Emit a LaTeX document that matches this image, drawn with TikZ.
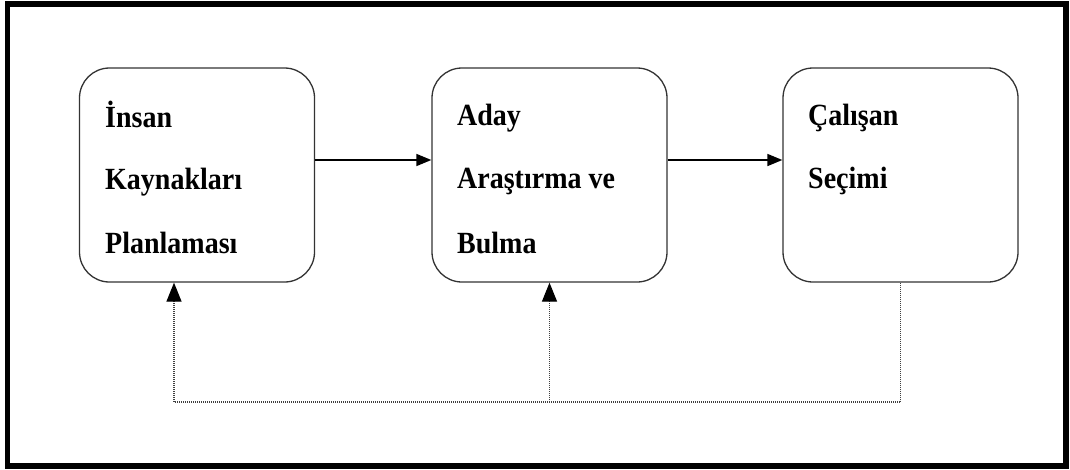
\documentclass[tikz,border=0pt]{standalone}
\usepackage{fontspec}
\usepackage{graphicx}
\setmainfont{Liberation Serif}
\usetikzlibrary{arrows.meta}
\newcommand{\tallword}[1]{\scalebox{1}[1.1]{#1}}
\begin{document}
\begin{tikzpicture}[x=1pt,y=-1pt,
  stagebox/.style={draw=black!80, line width=1.3pt, rounded corners=30pt,
    minimum width=235pt, minimum height=214pt, inner sep=0pt},
  lbl/.style={anchor=base west, inner sep=0pt,
    font=\fontsize{28}{30}\selectfont\bfseries},
  flow/.style={line width=1.6pt, -{Triangle[length=15pt,width=12pt]}},
  feedback/.style={black!75, line width=1.3pt, dash pattern=on 1pt off 1pt},
  fbtip/.style={-{Triangle[length=19pt,width=15pt,fill=black,color=black]}}]
  \useasboundingbox (0,0) rectangle (1070,469);
  \draw[line width=5.5pt] (7.5,4) rectangle (1066,466);

  % process stages
  \node[stagebox] (b1) at (197,175) {};
  \node[stagebox] (b2) at (549.5,175) {};
  \node[stagebox] (b3) at (900.5,175) {};

  % stage labels
  \node[lbl] (t11) at (105,127) {\tallword{İnsan}};
  \node[lbl] (t12) at (105,189) {\tallword{Kaynakları}};
  \node[lbl] (t13) at (105,253) {\tallword{Planlaması}};
  \node[lbl] (t21) at (457,125) {\tallword{Aday}};
  \node[lbl] (t22) at (457,188) {\tallword{Araştırma ve}};
  \node[lbl] (t23) at (457,253) {\tallword{Bulma}};
  \node[lbl] (t31) at (808,125) {\tallword{Çalışan}};
  \node[lbl] (t32) at (808,188) {\tallword{Seçimi}};

  % forward flow
  \coordinate (fy) at (0,160);
  \draw[flow] (b1.east |- fy) -- (b2.west |- fy);
  \draw[flow] (b2.east |- fy) -- (b3.west |- fy);

  % feedback loop
  \coordinate (r1) at (174,402);
  \draw[feedback] (b3.south) |- (r1);
  \draw[feedback,fbtip] (r1) -- (r1 |- b1.south);
  \draw[feedback,fbtip] (b2.south |- r1) -- (b2.south);
\end{tikzpicture}
\end{document}
